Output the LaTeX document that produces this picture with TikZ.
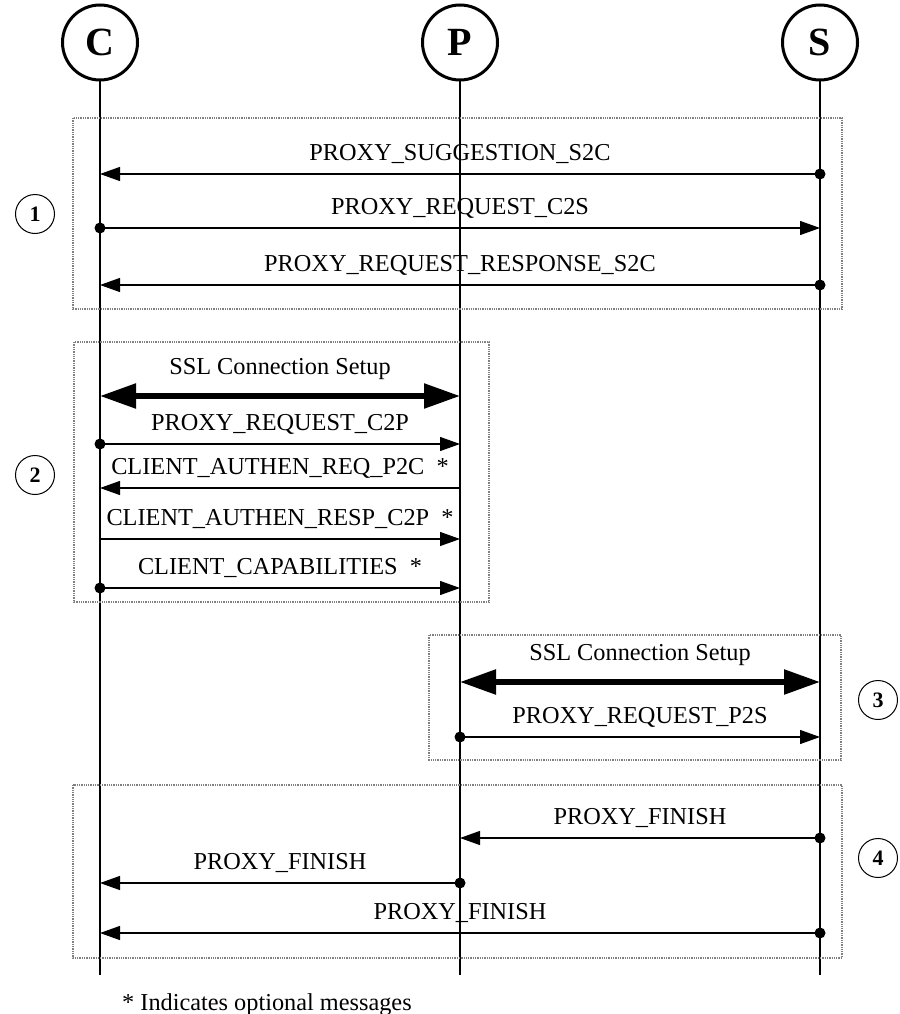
\documentclass[tikz,border=0pt]{standalone}
\usepackage{fontspec}
\setmainfont{Liberation Serif}
\usetikzlibrary{arrows.meta, calc}

\begin{document}
\begin{tikzpicture}[x=1pt, y=-1pt,
  actor/.style={draw, circle, line width=3pt, minimum size=75pt, inner sep=0pt,
    font=\fontsize{40}{40}\selectfont\bfseries},
  phase/.style={draw, circle, line width=1pt, minimum size=39pt, inner sep=0pt,
    font=\fontsize{22}{22}\selectfont\bfseries},
  grp/.style={draw=gray, densely dotted, line width=1.3pt},
  life/.style={line width=1.2pt},
  msg/.style={line width=1.2pt, -{Triangle[length=20pt, width=14pt]}},
  ssl/.style={line width=5.5pt, {Triangle[length=36pt, width=24pt]}-{Triangle[length=36pt, width=24pt]}},
  txt/.style={inner sep=0pt, text depth=0pt, font=\fontsize{24.3}{25}\selectfont},
  lbl/.style={txt, above=13pt},
  ssllbl/.style={txt, above=19pt},
]

  \useasboundingbox (0,0) rectangle (899,1014);

  % participants
  \node[actor] (C) at (100, 42.5) {C};
  \node[actor] (P) at (460, 42.5) {P};
  \node[actor] (S) at (820, 42.5) {S};

  \coordinate (bottom) at (0, 975);
  \draw[life] (C.south) -- (C.south |- bottom);
  \draw[life] (P.south) -- (P.south |- bottom);
  \draw[life] (S.south) -- (S.south |- bottom);

  % message rows
  \coordinate (r1) at (0, 174);
  \coordinate (r2) at (0, 228);
  \coordinate (r3) at (0, 285);
  \coordinate (r4) at (0, 396);
  \coordinate (r5) at (0, 444);
  \coordinate (r6) at (0, 488);
  \coordinate (r7) at (0, 539);
  \coordinate (r8) at (0, 588);
  \coordinate (r9) at (0, 682);
  \coordinate (r10) at (0, 737);
  \coordinate (r11) at (0, 838);
  \coordinate (r12) at (0, 883);
  \coordinate (r13) at (0, 933);

  % phase 1
  \draw[grp] (73, 118) rectangle (842, 309);
  \node[phase] (ph1) at (35, 214) {1};
  \draw[msg] (S |- r1) -- node[lbl] (l1) {PROXY\_SUGGESTION\_S2C} (C |- r1);
  \fill (S |- r1) circle (5.5pt);
  \draw[msg] (C |- r2) -- node[lbl] (l2) {PROXY\_REQUEST\_C2S} (S |- r2);
  \fill (C |- r2) circle (5.5pt);
  \draw[msg] (S |- r3) -- node[lbl] (l3) {PROXY\_REQUEST\_RESPONSE\_S2C} (C |- r3);
  \fill (S |- r3) circle (5.5pt);

  % phase 2
  \draw[grp] (74, 342) rectangle (489, 602);
  \node[phase] (ph2) at (35, 475) {2};
  \draw[ssl] (C |- r4) -- node[ssllbl] (l4) {SSL Connection Setup} (P |- r4);
  \draw[msg] (C |- r5) -- node[lbl] (l5) {PROXY\_REQUEST\_C2P} (P |- r5);
  \fill (C |- r5) circle (5.5pt);
  \draw[msg] (P |- r6) -- node[lbl] (l6) {CLIENT\_AUTHEN\_REQ\_P2C~~*} (C |- r6);
  \draw[msg] (C |- r7) -- node[lbl] (l7) {CLIENT\_AUTHEN\_RESP\_C2P~~*} (P |- r7);
  \draw[msg] (C |- r8) -- node[lbl] (l8) {CLIENT\_CAPABILITIES~~*} (P |- r8);
  \fill (C |- r8) circle (5.5pt);

  % phase 3
  \draw[grp] (429, 635) rectangle (841, 760);
  \node[phase] (ph3) at (878, 700) {3};
  \draw[ssl] (P |- r9) -- node[ssllbl] (l9) {SSL Connection Setup} (S |- r9);
  \draw[msg] (P |- r10) -- node[lbl] (l10) {PROXY\_REQUEST\_P2S} (S |- r10);
  \fill (P |- r10) circle (5.5pt);

  % phase 4
  \draw[grp] (73, 785) rectangle (842, 958);
  \node[phase] (ph4) at (878, 858) {4};
  \draw[msg] (S |- r11) -- node[lbl] (l11) {PROXY\_FINISH} (P |- r11);
  \fill (S |- r11) circle (5.5pt);
  \draw[msg] (P |- r12) -- node[lbl] (l12) {PROXY\_FINISH} (C |- r12);
  \fill (P |- r12) circle (5.5pt);
  \draw[msg] (S |- r13) -- node[lbl] (l13) {PROXY\_FINISH} (C |- r13);
  \fill (S |- r13) circle (5.5pt);

  \node[txt, anchor=base west] (note) at (122, 1010) {* Indicates optional messages};

\end{tikzpicture}
\end{document}
